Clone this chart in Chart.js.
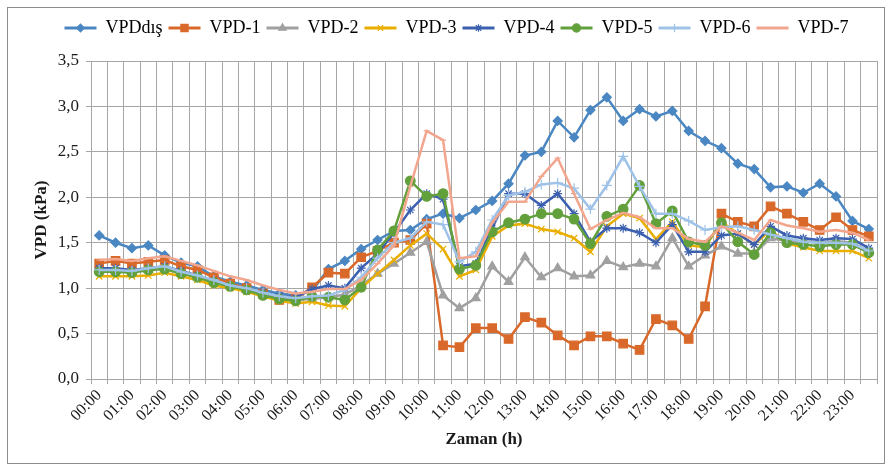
<!DOCTYPE html>
<html lang="tr">
<head>
<meta charset="UTF-8">
<title>VPD</title>
<script src="https://cdn.jsdelivr.net/npm/chart.js"></script>
<style>
  body { margin: 0; background: #fff; }
  canvas { display: block; }
</style>
</head>
<body>
<canvas id="c" width="892" height="470"></canvas>
<script>
// saatler: yarım saatlik 48 nokta
const times = [];
for (let h = 0; h < 24; h++) {
  const hh = String(h).padStart(2, '0');
  times.push(hh + ':00', hh + ':30');
}

const seriesNames = ['VPDdış', 'VPD-1', 'VPD-2', 'VPD-3', 'VPD-4', 'VPD-5', 'VPD-6', 'VPD-7'];

const vpdDis = [1.58,1.50,1.44,1.47,1.36,1.28,1.24,1.13,1.07,1.03,0.98,0.94,0.92,0.97,1.21,1.30,1.43,1.53,1.63,1.64,1.76,1.82,1.77,1.86,1.96,2.15,2.46,2.50,2.84,2.66,2.96,3.10,2.84,2.97,2.89,2.95,2.73,2.62,2.54,2.37,2.31,2.11,2.12,2.05,2.15,2.01,1.74,1.65];
const vpd1 = [1.27,1.30,1.27,1.29,1.31,1.24,1.20,1.12,1.05,1.00,0.94,0.87,0.88,1.01,1.17,1.16,1.34,1.41,1.50,1.53,1.71,0.37,0.35,0.56,0.56,0.44,0.68,0.62,0.48,0.37,0.47,0.47,0.39,0.32,0.66,0.59,0.44,0.80,1.82,1.73,1.68,1.90,1.82,1.73,1.64,1.78,1.64,1.57];
const vpd2 = [1.20,1.19,1.18,1.20,1.22,1.17,1.12,1.07,1.02,0.98,0.94,0.90,0.87,0.88,0.90,0.93,1.03,1.16,1.27,1.39,1.51,0.92,0.78,0.89,1.24,1.07,1.34,1.12,1.22,1.13,1.14,1.30,1.23,1.27,1.24,1.55,1.24,1.36,1.46,1.38,1.38,1.55,1.52,1.52,1.50,1.52,1.50,1.40];
const vpd3 = [1.13,1.13,1.13,1.14,1.17,1.13,1.09,1.03,1.00,0.96,0.91,0.86,0.83,0.85,0.81,0.80,1.00,1.16,1.31,1.47,1.60,1.43,1.13,1.20,1.57,1.69,1.71,1.65,1.62,1.55,1.40,1.68,1.82,1.77,1.54,1.73,1.47,1.45,1.73,1.60,1.48,1.64,1.49,1.45,1.41,1.41,1.41,1.33];
const vpd4 = [1.22,1.22,1.20,1.22,1.24,1.19,1.14,1.08,1.03,0.99,0.95,0.91,0.90,0.99,1.03,1.00,1.22,1.38,1.61,1.86,2.04,1.98,1.24,1.27,1.66,2.04,2.04,1.91,2.04,1.82,1.51,1.66,1.66,1.61,1.50,1.70,1.40,1.40,1.58,1.60,1.48,1.68,1.58,1.55,1.53,1.55,1.54,1.44];
const vpd5 = [1.18,1.18,1.17,1.20,1.21,1.16,1.12,1.06,1.02,0.98,0.92,0.88,0.86,0.91,0.90,0.87,1.01,1.42,1.63,2.18,2.01,2.04,1.21,1.25,1.62,1.72,1.76,1.82,1.82,1.76,1.49,1.79,1.87,2.13,1.71,1.85,1.51,1.47,1.72,1.51,1.37,1.61,1.50,1.48,1.46,1.48,1.48,1.39];
const vpd6 = [1.20,1.20,1.19,1.22,1.24,1.18,1.14,1.09,1.03,1.00,0.95,0.91,0.89,0.91,0.92,0.98,1.12,1.33,1.50,1.55,1.73,1.70,1.29,1.40,1.75,2.02,2.06,2.14,2.16,2.10,1.87,2.13,2.45,2.12,1.82,1.82,1.74,1.64,1.67,1.68,1.64,1.59,1.55,1.51,1.50,1.50,1.49,1.41];
const vpd7 = [1.31,1.32,1.30,1.33,1.35,1.30,1.25,1.19,1.13,1.09,1.03,0.98,0.94,0.96,0.99,0.99,1.09,1.27,1.47,2.12,2.73,2.63,1.33,1.35,1.72,1.95,1.95,2.23,2.43,2.04,1.65,1.75,1.83,1.78,1.66,1.66,1.54,1.51,1.68,1.61,1.53,1.75,1.69,1.66,1.62,1.64,1.61,1.53];

const allValues = [vpdDis, vpd1, vpd2, vpd3, vpd4, vpd5, vpd6, vpd7];
const colors = ['#4a87c2', '#d9692a', '#a0a0a0', '#e9ae00', '#3c60b0', '#62a03c', '#9fc3e8', '#f2a68e'];
const markers = ['rectRot', 'rect', 'triangle', 'crossRot', 'star', 'circle', 'cross', 'line'];
const markerSize = [4.5, 6, 5, 4.5, 4.5, 4.8, 5, 3];

const datasets = seriesNames.map((name, i) => ({
  label: name,
  data: allValues[i],
  borderColor: colors[i],
  backgroundColor: colors[i],
  borderWidth: 2.5,
  pointStyle: markers[i],
  pointRadius: markerSize[i],
  pointBorderWidth: 1.2,
  pointBackgroundColor: colors[i],
  pointBorderColor: colors[i],
  tension: 0,
  order: seriesNames.length - i
}));

const serif = "'Liberation Serif', 'Times New Roman', serif";

// çerçeve ve beyaz zemin
const frame = {
  id: 'frame',
  beforeDraw(chart) {
    const ctx = chart.ctx;
    ctx.save();
    ctx.fillStyle = '#fff';
    ctx.fillRect(0, 0, chart.width, chart.height);
    ctx.strokeStyle = '#8c8c8c';
    ctx.lineWidth = 1;
    ctx.strokeRect(7.5, 7.5, chart.width - 15, chart.height - 14);
    ctx.restore();
  }
};

// lejant yüksekliği sabit, biraz sağa kaydır, çizgi üstüne işaret
const legendShift = 14;
const legendMarks = {
  id: 'legendMarks',
  afterInit(chart) {
    const fit = chart.legend.fit;
    chart.legend.fit = function () { fit.call(this); this.height = 48; };
  },
  afterLayout(chart) {
    chart.legend.left += legendShift;
    chart.legend.right += legendShift;
  },
  afterDraw(chart) {
    const lg = chart.legend;
    if (!lg || !lg.legendHitBoxes || !Chart.helpers || !Chart.helpers.drawPoint) return;
    const ctx = chart.ctx;
    const bw = lg.options.labels.boxWidth;
    lg.legendHitBoxes.forEach((hb, k) => {
      const ds = chart.data.datasets[lg.legendItems[k].datasetIndex];
      if (ds.pointStyle === 'line') return;
      ctx.save();
      ctx.fillStyle = ds.pointBackgroundColor;
      ctx.strokeStyle = ds.pointBorderColor;
      ctx.lineWidth = ds.pointBorderWidth;
      Chart.helpers.drawPoint(ctx, {
        pointStyle: ds.pointStyle,
        radius: ds.pointRadius * 0.85,
        borderWidth: ds.pointBorderWidth,
        rotation: 0
      }, hb.left + bw / 2, hb.top + hb.height / 2);
      ctx.restore();
    });
  }
};

new Chart(document.getElementById('c'), {
  type: 'line',
  data: { labels: times, datasets: datasets },
  options: {
    responsive: false,
    animation: false,
    layout: { padding: { left: 8, right: 15, top: 13, bottom: 8 } },
    plugins: {
      tooltip: { enabled: false },
      legend: {
        position: 'top',
        labels: {
          boxWidth: 32,
          boxHeight: 3,
          padding: 6,
          color: '#1a1a1a',
          font: { family: serif, size: 18 },
          sort: (a, b) => a.datasetIndex - b.datasetIndex,
          generateLabels: chart => chart.data.datasets.map((ds, i) => ({
            text: ds.label,
            fillStyle: ds.borderColor,
            strokeStyle: ds.borderColor,
            lineWidth: 0,
            hidden: false,
            datasetIndex: i
          }))
        }
      }
    },
    scales: {
      x: {
        offset: true,
        grid: { offset: true, color: '#a6a6a6', tickLength: 5, drawTicks: true },
        border: { color: '#a6a6a6' },
        ticks: {
          autoSkip: false,
          maxRotation: 45,
          minRotation: 45,
          padding: 2,
          color: '#1a1a1a',
          font: { family: serif, size: 16 },
          callback: function (v, i) { return i % 2 === 0 ? times[i] : ''; }
        },
        title: {
          display: true,
          text: 'Zaman (h)',
          color: '#1a1a1a',
          font: { family: serif, size: 17, weight: 'bold' },
          padding: { top: 0, bottom: 12 }
        },
        afterFit(scale) { scale.height = 83; }
      },
      y: {
        min: 0,
        max: 3.5,
        grid: { color: '#a6a6a6', tickLength: 5 },
        border: { color: '#a6a6a6' },
        ticks: {
          stepSize: 0.5,
          padding: 7,
          color: '#1a1a1a',
          font: { family: serif, size: 17 },
          callback: v => v.toFixed(1).replace('.', ',')
        },
        title: {
          display: true,
          text: 'VPD (kPa)',
          color: '#1a1a1a',
          font: { family: serif, size: 17, weight: 'bold' },
          padding: { top: 23, bottom: 0 }
        },
        afterFit(scale) { scale.width = 83; }
      }
    }
  },
  plugins: [frame, legendMarks]
});
</script>
</body>
</html>
